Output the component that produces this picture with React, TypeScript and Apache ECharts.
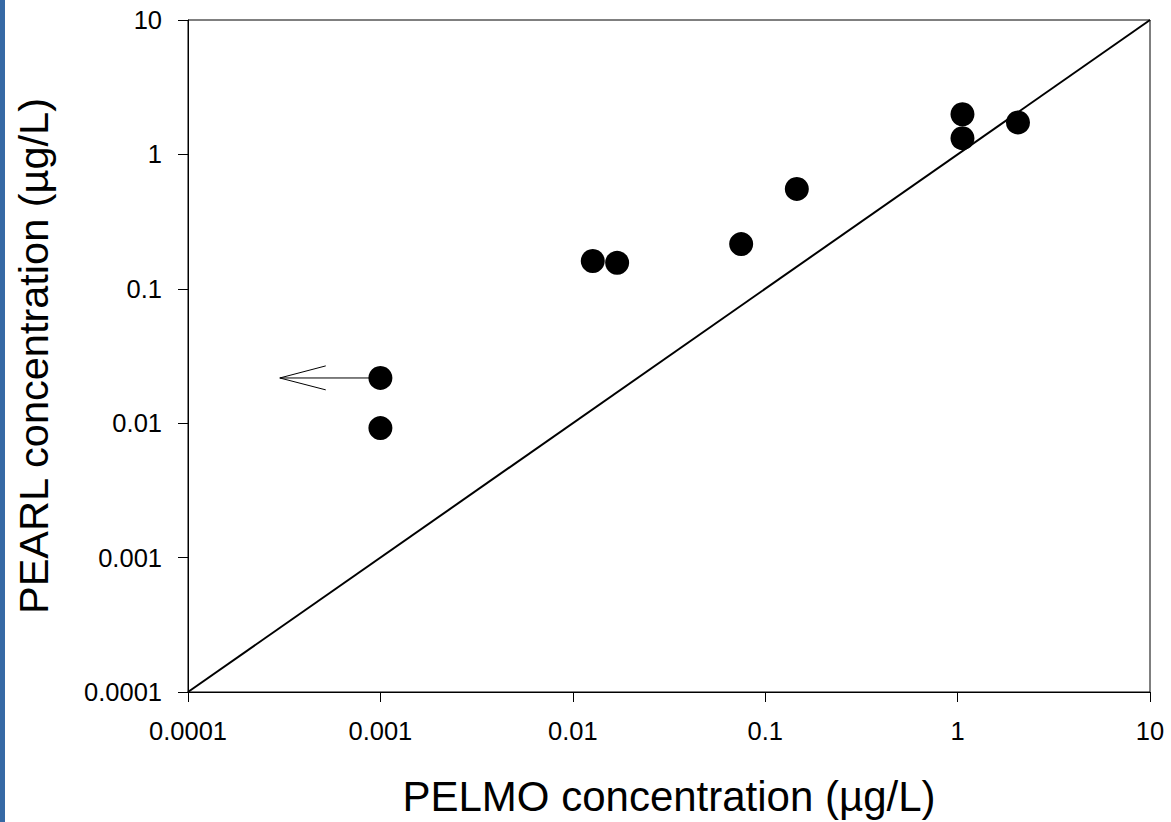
import React, { useEffect, useRef } from "react";
import * as echarts from "echarts";

const tickLabels = ["0.0001", "0.001", "0.01", "0.1", "1", "10"];
const pelmo = [0.001, 0.001, 0.0127, 0.017, 0.075, 0.146, 1.06, 1.06, 2.06];
const pearl = [0.0217, 0.0092, 0.161, 0.156, 0.215, 0.553, 1.99, 1.32, 1.73];
const oneToOne = [0.0001, 10];
const arrowShaft = [
  [0.0003, 0.0217],
  [0.001, 0.0217],
];
const arrowHead = [
  [0.00052, 0.0267],
  [0.0003, 0.0217],
  [0.00052, 0.0177],
];

const FONT = "'Liberation Sans', Arial, sans-serif";

function fmt(v: number) {
  const i = Math.round(Math.log10(v)) + 4;
  return tickLabels[i] ?? "";
}

export default function App() {
  const ref = useRef<HTMLDivElement>(null);
  useEffect(() => {
    if (!ref.current) return;
    const chart = echarts.init(ref.current, null, { renderer: "svg" });
    const axisCommon = {
      type: "log" as const,
      logBase: 10,
      min: 0.0001,
      max: 10,
      nameLocation: "middle" as const,
      axisLine: { show: true, lineStyle: { color: "#000", width: 1 } },
      axisTick: { show: true, inside: false, length: 10, lineStyle: { color: "#000", width: 1 } },
      minorTick: { show: false },
      splitLine: { show: false },
      axisLabel: {
        color: "#000",
        fontSize: 25.5,
        fontFamily: FONT,
        margin: 26,
        formatter: (v: number) => fmt(v),
      },
    };
    chart.setOption({
      animation: false,
      backgroundColor: "#fff",
      grid: {
        left: 188,
        top: 20,
        width: 962,
        height: 672,
        show: true,
        borderColor: "#000",
        borderWidth: 1,
        backgroundColor: "transparent",
      },
      xAxis: {
        ...axisCommon,
        name: "PELMO concentration (\u00b5g/L)",
        nameGap: 83,
        nameTextStyle: { color: "#000", fontSize: 42, fontFamily: FONT },
      },
      yAxis: {
        ...axisCommon,
        name: "PEARL concentration (\u00b5g/L)",
        nameGap: 134,
        nameTextStyle: { color: "#000", fontSize: 41.5, fontFamily: FONT },
      },
      graphic: [
        {
          type: "rect",
          left: 0,
          top: 0,
          shape: { width: 5, height: 822 },
          style: { fill: "#3669a5" },
        },
      ],
      series: [
        {
          type: "line",
          data: oneToOne.map((v) => [v, v]),
          symbol: "none",
          lineStyle: { color: "#000", width: 2 },
          silent: true,
        },
        {
          type: "line",
          data: arrowShaft,
          symbol: "none",
          lineStyle: { color: "#000", width: 1 },
          silent: true,
        },
        {
          type: "line",
          data: arrowHead,
          symbol: "none",
          lineStyle: { color: "#000", width: 1 },
          silent: true,
        },
        {
          type: "scatter",
          data: pelmo.map((x, i) => [x, pearl[i]]),
          symbol: "circle",
          symbolSize: 24,
          itemStyle: { color: "#000", opacity: 1 },
          z: 5,
        },
      ],
    });
    return () => chart.dispose();
  }, []);
  return (
    <div
      ref={ref}
      style={{ position: "absolute", left: 0, top: 0, width: 1171, height: 822 }}
    />
  );
}
